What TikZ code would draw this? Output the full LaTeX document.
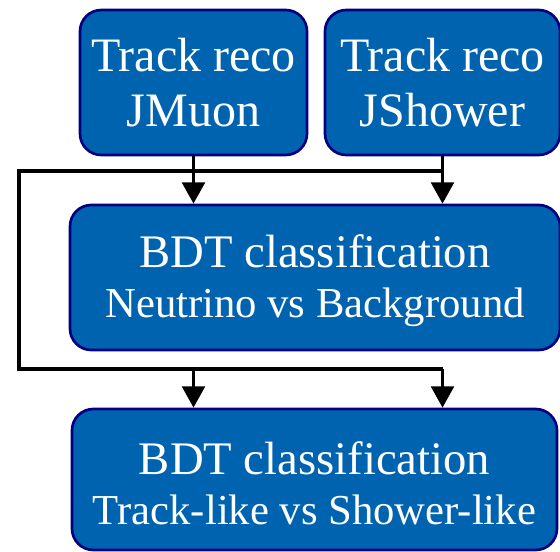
\documentclass[tikz,border=0pt]{standalone}
\usepackage{fontspec}
\setmainfont{Liberation Serif}
\usetikzlibrary{arrows.meta}
\definecolor{boxfill}{RGB}{0,99,176}
\definecolor{boxedge}{RGB}{0,0,128}
\tikzset{
  box/.style={draw=boxedge, fill=boxfill, line width=2pt, rounded corners=16pt,
    text=white, align=center, inner sep=0pt},
  topbox/.style={box, minimum height=108.75pt, font=\fontsize{36}{41.25}\selectfont},
  bdtbox/.style={box, font=\fontsize{32}{37.5}\selectfont},
  link/.style={line width=2.6pt, draw=black},
  arr/.style={link, -{Triangle[width=17pt,length=16pt]}}
}
\begin{document}
\begin{tikzpicture}[x=0.75pt,y=-0.75pt]
\useasboundingbox (0,0) rectangle (560,552);
\node[topbox, minimum width=170.25pt] (mu) at (193.5,82.5) {Track reco\\JMuon};
\node[topbox, minimum width=176.25pt] (sh) at (442.5,82.5) {Track reco\\JShower};
\node[bdtbox, minimum width=367.5pt, minimum height=108.75pt] (b1) at (315,277.5)
  {\rule{0pt}{30pt}{\fontsize{35}{37.5}\selectfont BDT classification}\\Neutrino vs Background};
\node[bdtbox, minimum width=363.75pt, minimum height=105.75pt] (b2) at (314.5,479.5)
  {\rule{0pt}{30pt}{\fontsize{35}{37.5}\selectfont BDT classification}\\Track-like vs Shower-like};
\coordinate (l1) at (19,171);
\coordinate (l2) at (19,369);
\draw[arr] (mu.south) -- (mu.south |- b1.north);
\draw[arr] (sh.south) -- (sh.south |- b1.north);
\draw[link] (sh.south |- l1) -- (l1) -- (l2) -- (sh.south |- l2);
\draw[arr] (mu.south |- l2) -- (mu.south |- b2.north);
\draw[arr] (sh.south |- l2) -- (sh.south |- b2.north);
\end{tikzpicture}
\end{document}
